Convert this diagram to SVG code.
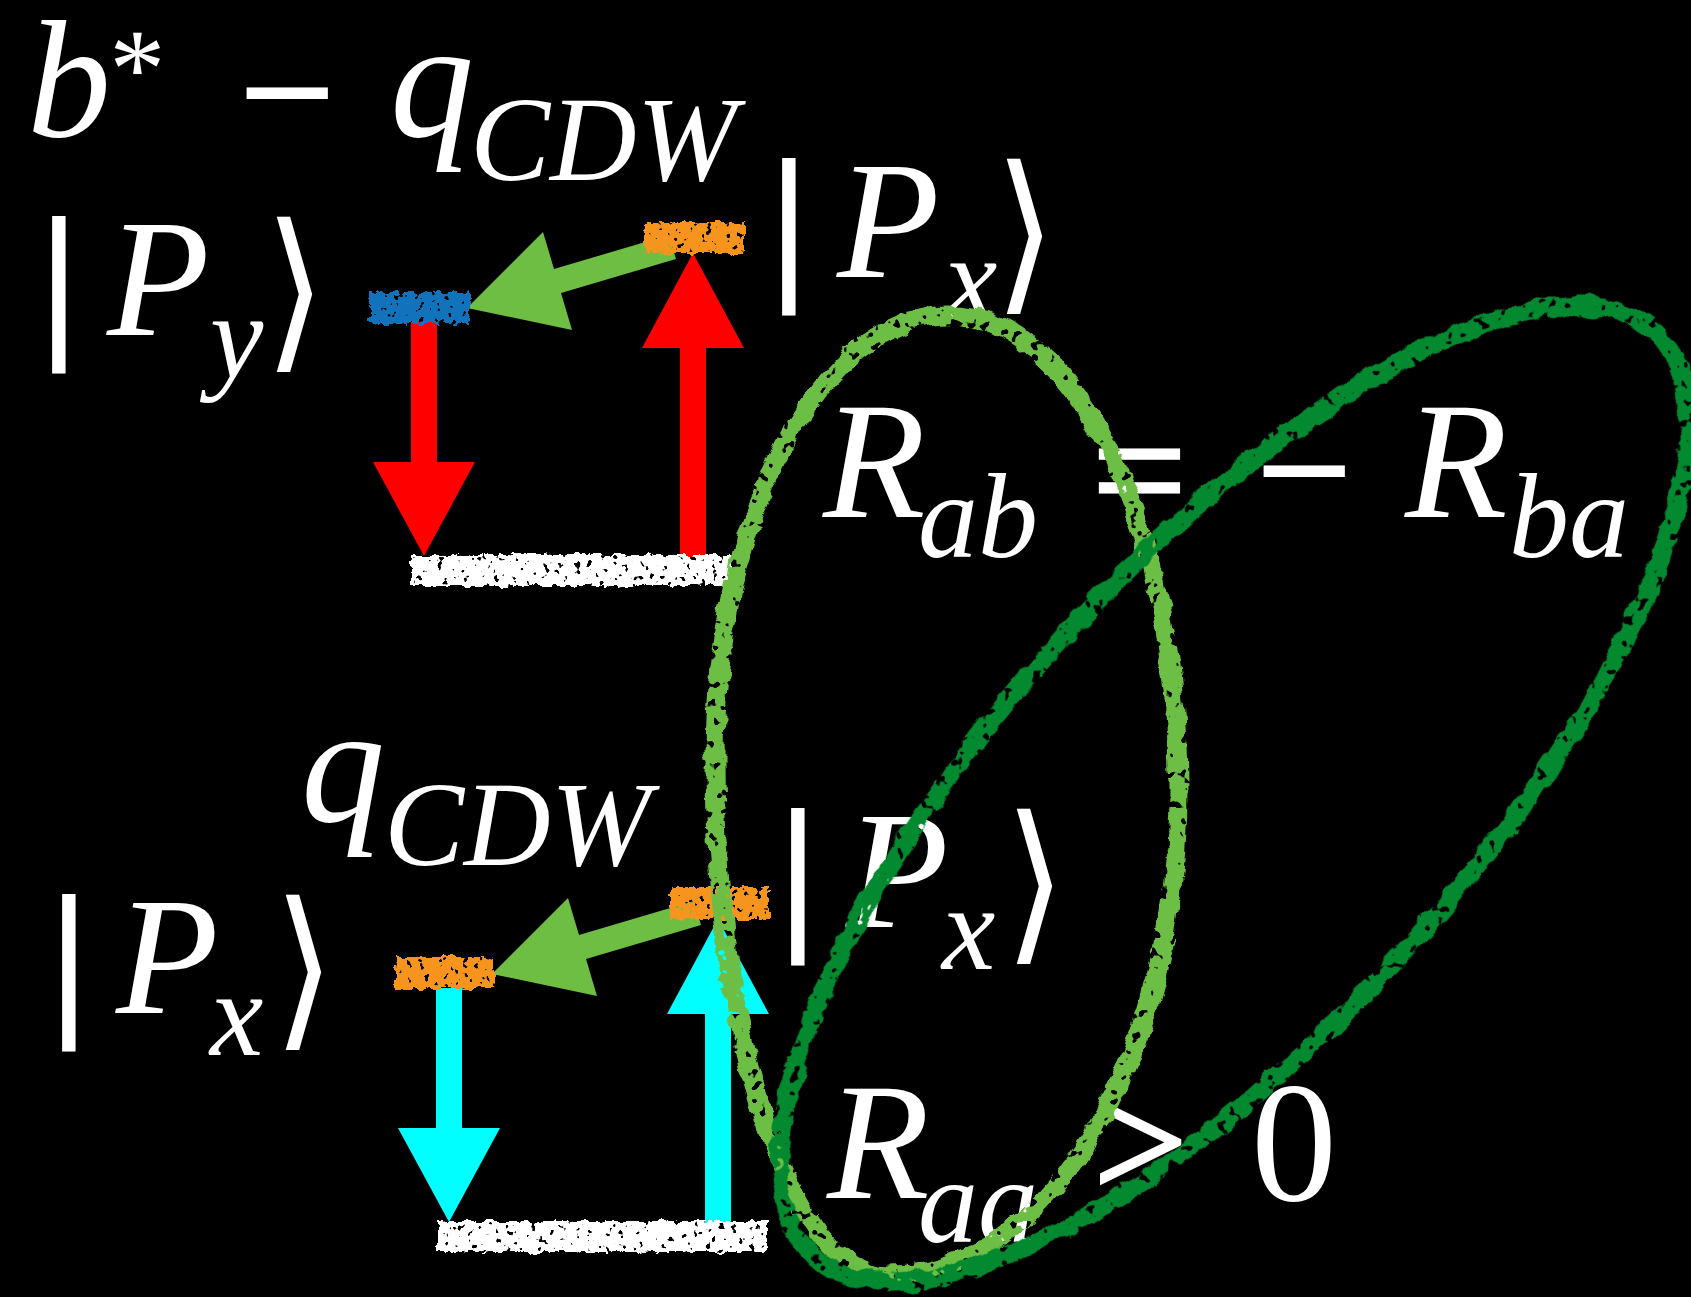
<svg xmlns="http://www.w3.org/2000/svg" width="1691" height="1297" viewBox="0 0 1691 1297">
<defs>
<style>
.t{font-family:"Liberation Serif","Times New Roman",serif;fill:#fff}
.i{font-style:italic}
.m{font-size:168px}
.s{font-size:120px}
.op{stroke:#fff;stroke-width:3}
.bar{font-size:168px;stroke:#fff;stroke-width:5}
.br{font-family:"DejaVu Serif","DejaVu Sans",serif;fill:#fff;font-size:160px}
.loop{fill:none;stroke-width:19;filter:url(#rough)}
</style>
<filter id="chalk" x="-10%" y="-40%" width="120%" height="180%" color-interpolation-filters="sRGB">
<feTurbulence type="fractalNoise" baseFrequency="0.12" numOctaves="3" seed="4" result="n"/>
<feDisplacementMap in="SourceGraphic" in2="n" scale="9" xChannelSelector="R" yChannelSelector="G" result="d"/>
<feTurbulence type="fractalNoise" baseFrequency="0.16" numOctaves="2" seed="9" result="n2"/>
<feColorMatrix in="n2" type="matrix" values="0 0 0 0 0 0 0 0 0 0 0 0 0 0 0 -20 0 0 0 14" result="m"/>
<feComposite in="d" in2="m" operator="in"/>
</filter>
<filter id="rough" x="-5%" y="-5%" width="110%" height="110%" color-interpolation-filters="sRGB">
<feTurbulence type="fractalNoise" baseFrequency="0.045" numOctaves="3" seed="2" result="n"/>
<feDisplacementMap in="SourceGraphic" in2="n" scale="12" xChannelSelector="R" yChannelSelector="G" result="d"/>
<feTurbulence type="fractalNoise" baseFrequency="0.1" numOctaves="2" seed="5" result="n2"/>
<feColorMatrix in="n2" type="matrix" values="0 0 0 0 0 0 0 0 0 0 0 0 0 0 0 -20 0 0 0 14" result="m"/>
<feComposite in="d" in2="m" operator="in"/>
</filter>
</defs>
<rect width="1691" height="1297" fill="#000"/>

<g id="label-top">
<text class="t i m" x="27" y="136">b</text>
<text class="t i" style="font-size:112px" x="104" y="106">*</text>
<text class="t m op" x="240" y="149">−</text>
<text class="t i m" x="390" y="136">q</text>
<text class="t i s" x="470" y="180">CDW</text>
</g>
<g id="label-bottom">
<text class="t i m" x="301" y="821">q</text>
<text class="t i s" x="384" y="865">CDW</text>
</g>

<g id="ket-py-top">
<text class="t bar" x="42" y="335">|</text>
<text class="t i m" x="107" y="335">P</text>
<text class="t i s" x="210" y="377">y</text>
<text class="br" transform="translate(264,349) scale(1,1.09)">⟩</text>
</g>
<g id="ket-px-top">
<text class="t bar" x="772" y="277">|</text>
<text class="t i m" x="837" y="277">P</text>
<text class="t i s" x="944" y="319">x</text>
<text class="br" transform="translate(994,291) scale(1,1.09)">⟩</text>
</g>
<g id="ket-px-bottom-left">
<text class="t bar" x="52" y="1013">|</text>
<text class="t i m" x="116" y="1013">P</text>
<text class="t i s" x="210" y="1055">x</text>
<text class="br" transform="translate(273,1027) scale(1,1.09)">⟩</text>
</g>
<g id="ket-px-bottom-right">
<text class="t bar" x="781" y="927">|</text>
<text class="t i m" x="846" y="927">P</text>
<text class="t i s" x="942" y="969">x</text>
<text class="br" transform="translate(1004,941) scale(1,1.09)">⟩</text>
</g>

<g id="eq-rab">
<text class="t i m" x="823" y="517">R</text>
<text class="t i s" x="918" y="557">ab</text>
<text class="t m op" x="1092" y="527">=</text>
<text class="t m op" x="1257" y="527">−</text>
<text class="t i m" x="1405" y="517">R</text>
<text class="t i s" x="1509" y="557">ba</text>
</g>
<g id="eq-raa">
<text class="t i m" x="827" y="1198">R</text>
<text class="t i s" x="918" y="1242">aa</text>
<text class="t m op" x="1093" y="1198">&gt;</text>
<text class="t" style="font-size:172px" x="1251" y="1200">0</text>
</g>

<g id="connectors">
<g id="red-arrows" fill="#ff0000">
<rect x="411" y="322" width="26" height="142"/>
<polygon points="373,462 475,462 424,556"/>
<rect x="680" y="345" width="26" height="212"/>
<polygon points="642,348 744,348 693,253"/>
</g>
<g id="cyan-arrows" fill="#00ffff">
<rect x="436" y="988" width="26" height="142"/>
<polygon points="398,1128 500,1128 449,1222"/>
<rect x="705" y="1011" width="26" height="212"/>
<polygon points="667,1014 769,1014 718,919"/>
</g>
<polygon id="green-arrow-top" fill="#6ebe44" points="467,308 572,330 561,293 676,259 669,235 554,269 543,232"/>
<polygon id="green-arrow-bottom" fill="#6ebe44" points="492,974 597,996 586,959 701,925 694,901 579,935 568,898"/>
</g>

<g id="level-py-top"><rect x="370" y="292" width="100" height="32" fill="#1273bd" filter="url(#chalk)"/></g>
<g id="level-px-top"><rect x="645" y="222" width="99" height="32" fill="#f7941d" filter="url(#chalk)"/></g>
<g id="level-ground-top"><rect x="412" y="555" width="320" height="31" fill="#fff" filter="url(#chalk)"/></g>
<g id="level-px-bottom-left"><rect x="395" y="957" width="99" height="32" fill="#f7941d" filter="url(#chalk)"/></g>
<g id="level-px-bottom-right"><rect x="670" y="887" width="99" height="32" fill="#f7941d" filter="url(#chalk)"/></g>
<g id="level-ground-bottom"><rect x="437" y="1221" width="330" height="31" fill="#fff" filter="url(#chalk)"/></g>

<g id="loop-light">
<path class="loop" stroke="#6cbe45" d="M950,315 C1076,315 1178,528 1178,790 C1178,1058 1048,1275 888,1275 C792,1275 715,1044 715,760 C715,514 820,315 950,315 Z"/>
</g>
<g id="loop-dark">
<ellipse class="loop" stroke="#03892f" cx="0" cy="0" rx="625" ry="232" transform="translate(1234,794) rotate(-47.7)"/>
</g>
</svg>
